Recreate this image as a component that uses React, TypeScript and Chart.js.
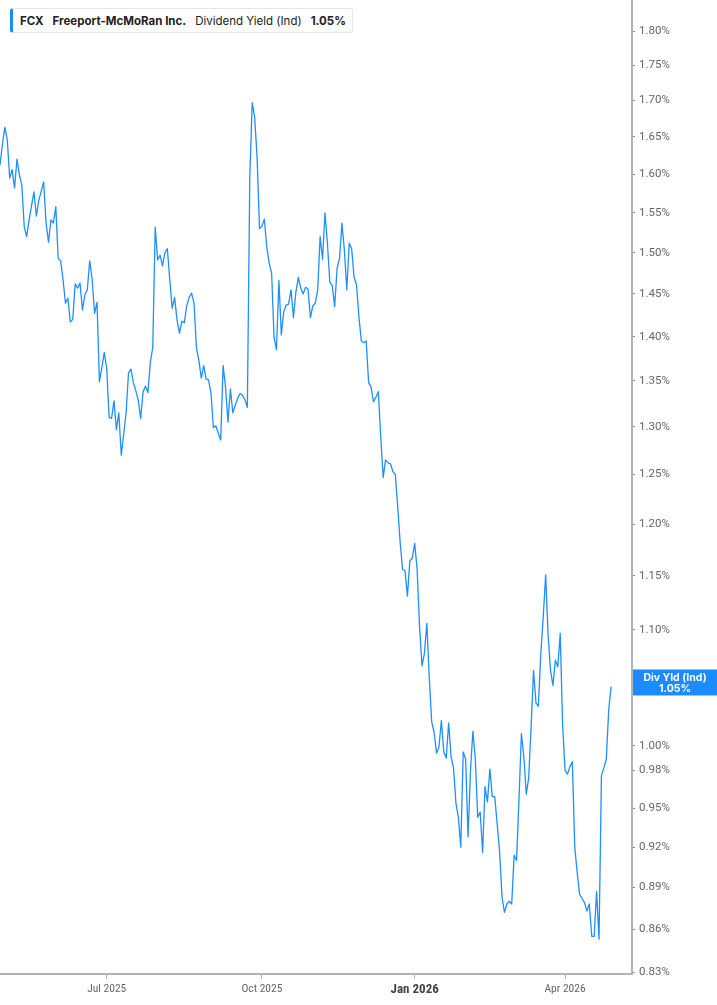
import { useEffect, useRef } from "react";
import { Chart, registerables } from "chart.js";

Chart.register(...registerables);

// x axis: trading-day index from the first point (late Apr 2025)
const tickLabels = ["Jul 2025", "Oct 2025", "Jan 2026", "Apr 2026"];
const tickDayIndex = [44, 108, 171, 233];
const lastDayIndex = 260.6; // right edge of the plot

const yTickValues = [
  0.83, 0.86, 0.89, 0.92, 0.95, 0.98, 1.0, 1.05, 1.1, 1.15, 1.2, 1.25, 1.3,
  1.35, 1.4, 1.45, 1.5, 1.55, 1.6, 1.65, 1.7, 1.75, 1.8,
];
const yMin = 0.8289;
const yMax = 1.8465;

// FCX dividend yield (indicated), %, one value per trading day
const divYield = [
  1.612, 1.640, 1.663, 1.646, 1.595, 1.606, 1.582, 1.620, 1.599, 1.586,
  1.532, 1.520, 1.541, 1.559, 1.577, 1.546, 1.566, 1.578, 1.590, 1.537,
  1.513, 1.541, 1.537, 1.558, 1.493, 1.490, 1.467, 1.439, 1.445, 1.417,
  1.420, 1.462, 1.457, 1.463, 1.431, 1.449, 1.455, 1.490, 1.467, 1.427,
  1.440, 1.349, 1.365, 1.382, 1.364, 1.310, 1.309, 1.328, 1.297, 1.315,
  1.270, 1.292, 1.315, 1.359, 1.363, 1.348, 1.339, 1.329, 1.309, 1.338,
  1.344, 1.337, 1.371, 1.388, 1.532, 1.491, 1.497,
  1.484, 1.500, 1.505, 1.467, 1.433, 1.446, 1.419, 1.404, 1.418, 1.416,
  1.436, 1.446, 1.451, 1.439, 1.387, 1.373, 1.353, 1.367, 1.352, 1.351,
  1.336, 1.299, 1.301, 1.293, 1.286, 1.367, 1.343, 1.305, 1.341, 1.315,
  1.323, 1.331, 1.336, 1.334, 1.329, 1.321, 1.597, 1.697, 1.677, 1.623,
  1.530, 1.533, 1.542, 1.507, 1.487, 1.475, 1.399, 1.385, 1.466, 1.402,
  1.429, 1.437, 1.438, 1.455, 1.422, 1.452, 1.470, 1.457, 1.450, 1.458,
  1.456, 1.422,
  1.436, 1.439, 1.455, 1.520, 1.492, 1.550, 1.512, 1.464, 1.460, 1.435,
  1.481, 1.493, 1.537, 1.503, 1.455, 1.512, 1.505, 1.470, 1.461, 1.423,
  1.395, 1.393, 1.395, 1.348, 1.343, 1.327, 1.332, 1.338, 1.289, 1.247,
  1.265, 1.262, 1.261, 1.253, 1.250, 1.217, 1.182, 1.156, 1.155, 1.131,
  1.164, 1.167, 1.181, 1.156, 1.103,
  1.068, 1.079, 1.106, 1.058, 1.020, 1.011, 0.994, 0.999, 1.021, 0.995,
  0.990, 1.019, 0.991, 0.982, 0.954, 0.943, 0.920, 0.995, 0.989, 0.928,
  0.980, 1.012, 0.989, 0.943, 0.947, 0.916, 0.967, 0.955, 0.981, 0.959,
  0.959, 0.938, 0.917, 0.883, 0.872, 0.878, 0.880, 0.878, 0.914, 0.910,
  0.957, 1.010, 0.991, 0.961, 0.974, 1.016, 1.064, 1.036, 1.033, 1.079,
  1.112, 1.151, 1.096, 1.064, 1.051, 1.073, 1.067, 1.097, 1.017, 0.980,
  0.977, 0.983, 0.987, 0.920, 0.901, 0.885, 0.882, 0.879, 0.873, 0.878,
  0.855, 0.855, 0.887, 0.853, 0.976, 0.982, 0.989, 1.030, 1.050,
];

const BLUE = "#1a8cff";
const AXIS = "#b3b3b3";
const FONT = "Roboto, 'Liberation Sans', sans-serif";
const NARROW = "'Roboto Condensed', 'Liberation Sans Narrow', Roboto, sans-serif";

// blue tag with the latest value on the right axis
const lastValueTag = {
  id: "lastValueTag",
  afterDraw(chart: any) {
    const { ctx, chartArea, scales } = chart;
    const last = divYield[divYield.length - 1];
    const y = scales.y.getPixelForValue(last);
    const left = chartArea.right + 1;
    ctx.save();
    ctx.fillStyle = BLUE;
    ctx.fillRect(left, y - 17, chart.width - left, 26);
    ctx.fillStyle = "#fff";
    ctx.font = "bold 10.5px Inter, 'Noto Sans', sans-serif";
    ctx.textAlign = "center";
    ctx.textBaseline = "middle";
    const cx = (left + chart.width) / 2;
    ctx.fillText("Div Yld (Ind)", cx, y - 9);
    ctx.fillText(last.toFixed(2) + "%", cx, y + 2);
    ctx.restore();
  },
};

export default function App() {
  const chartRef = useRef<Chart | null>(null);
  const canvasRef = useRef<HTMLCanvasElement | null>(null);

  useEffect(() => {
    const ctx = canvasRef.current?.getContext("2d");
    if (!ctx) return;
    if (chartRef.current) chartRef.current.destroy();

    chartRef.current = new Chart(ctx, {
      type: "line",
      data: {
        datasets: [
          {
            data: divYield.map((v, i) => ({ x: i, y: v })),
            borderColor: "#1e8fff",
            borderWidth: 1.3,
            borderJoinStyle: "round",
            pointRadius: 0,
            tension: 0,
            fill: false,
          },
        ],
      },
      options: {
        animation: false,
        responsive: true,
        maintainAspectRatio: false,
        layout: { padding: 0 },
        plugins: { legend: { display: false }, tooltip: { enabled: false } },
        scales: {
          x: {
            type: "linear",
            min: 0,
            max: lastDayIndex,
            afterBuildTicks: (s: any) => {
              s.ticks = tickDayIndex.map((v) => ({ value: v }));
            },
            afterFit: (s: any) => {
              s.height = 31;
              s.paddingLeft = 0;
              s.paddingRight = 0;
            },
            ticks: {
              autoSkip: false,
              maxRotation: 0,
              padding: 3,
              callback: (_v: any, i: number) => tickLabels[i],
              color: (c: any) => (c.index === 2 ? "#444" : "#666"),
              font: (c: any) =>
                c.index === 2
                  ? { family: NARROW, size: 13, weight: "bold" }
                  : { family: NARROW, size: 11.5 },
            },
            grid: { drawOnChartArea: false, tickLength: 5, color: AXIS },
            border: { color: AXIS, width: 2 },
          },
          y: {
            type: "logarithmic",
            position: "right",
            min: yMin,
            max: yMax,
            afterBuildTicks: (s: any) => {
              s.ticks = yTickValues.map((v) => ({ value: v }));
            },
            afterFit: (s: any) => {
              s.width = 85;
              s.paddingTop = 0;
              s.paddingBottom = 0;
            },
            ticks: {
              autoSkip: false,
              padding: 4,
              color: "#666",
              font: { family: FONT, size: 11.5 },
              callback: (v: any) => Number(v).toFixed(2) + "%",
            },
            grid: { drawOnChartArea: false, tickLength: 3, color: "#888" },
            border: { color: AXIS, width: 2 },
          },
        },
      },
      plugins: [lastValueTag],
    });

    return () => {
      if (chartRef.current) {
        chartRef.current.destroy();
        chartRef.current = null;
      }
    };
  }, []);

  return (
    <div
      style={{
        position: "absolute",
        left: 0,
        top: 0,
        width: 717,
        height: 1005,
        background: "#fff",
      }}
    >
      <canvas ref={canvasRef} />
      <div
        style={{
          position: "absolute",
          left: 10,
          top: 8,
          height: 25,
          boxSizing: "border-box",
          display: "flex",
          alignItems: "center",
          gap: 9,
          padding: "0 6px 0 7px",
          background: "#fff",
          border: "1px solid #e6e6e6",
          borderLeft: `3px solid ${BLUE}`,
          borderRadius: 3,
          fontFamily: "Inter, 'Noto Sans', sans-serif",
          fontSize: 11.5,
          color: "#222",
          whiteSpace: "nowrap",
        }}
      >
        <span style={{ fontWeight: 700 }}>FCX</span>
        <span style={{ fontWeight: 700 }}>Freeport-McMoRan Inc.</span>
        <span>Dividend Yield (Ind)</span>
        <span style={{ fontWeight: 700 }}>1.05%</span>
      </div>
    </div>
  );
}
